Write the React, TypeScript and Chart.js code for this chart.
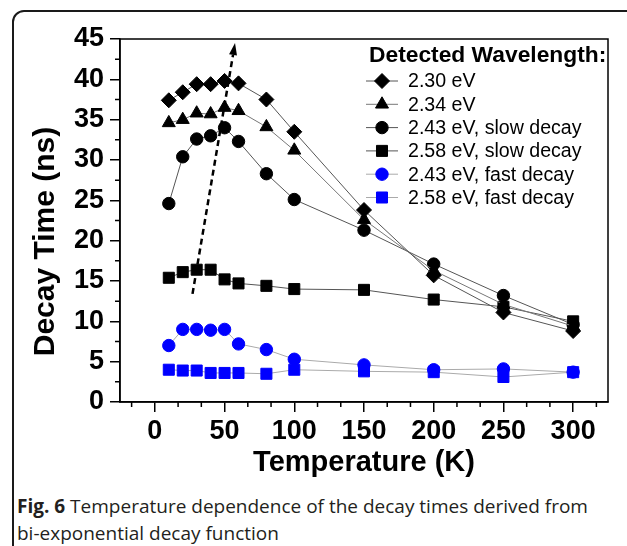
import React, { useEffect, useRef } from 'react';
import { Chart, registerables } from 'chart.js';
import { drawPoint } from 'chart.js/helpers';

Chart.register(...registerables);

// ---- data ----
const temperatures = [10, 20, 30, 40, 50, 60, 80, 100, 150, 200, 250, 300];
const ev230 = [37.4, 38.4, 39.4, 39.4, 39.8, 39.5, 37.5, 33.5, 23.8, 15.7, 11.1, 8.8];
const ev234 = [34.6, 35.0, 35.8, 35.7, 36.5, 36.1, 34.1, 31.2, 22.6, 16.3, 12.1, 9.4];
const ev243slow = [24.6, 30.4, 32.6, 33.0, 34.0, 32.3, 28.3, 25.1, 21.3, 17.1, 13.2, 9.6];
const ev258slow = [15.4, 16.1, 16.4, 16.4, 15.2, 14.7, 14.4, 14.0, 13.9, 12.7, 11.8, 10.0];
const ev243fast = [7.0, 9.0, 9.0, 8.9, 9.0, 7.2, 6.5, 5.3, 4.6, 4.0, 4.1, 3.7];
const ev258fast = [4.0, 3.9, 3.9, 3.6, 3.6, 3.6, 3.5, 4.0, 3.8, 3.7, 3.1, 3.7];
const seriesLabels = [
  '2.30 eV',
  '2.34 eV',
  '2.43 eV, slow decay',
  '2.58 eV, slow decay',
  '2.43 eV, fast decay',
  '2.58 eV, fast decay',
];
const xTickValues = [0, 50, 100, 150, 200, 250, 300];
const yTickValues = [0, 5, 10, 15, 20, 25, 30, 35, 40, 45];
const arrowT = [27, 57.5];
const arrowV = [13.4, 44.5];
const legendTitle = 'Detected Wavelength:';
const xTitle = 'Temperature (K)';
const yTitle = 'Decay Time (ns)';

const FONT = "'Liberation Sans', Arial, Helvetica, sans-serif";

const toPts = (vals: number[]) => temperatures.map((t, i) => ({ x: t, y: vals[i] }));

const styles = [
  { style: 'rectRot', r: 7.5, color: '#000', line: '#555' },
  { style: 'triangle', r: 7.5, color: '#000', line: '#777' },
  { style: 'circle', r: 6.2, color: '#000', line: '#555' },
  { style: 'rect', r: 7.8, color: '#000', line: '#555' },
  { style: 'circle', r: 6.2, color: '#0000ff', line: '#aaa' },
  { style: 'rect', r: 7.8, color: '#0000ff', line: '#aaa' },
];
const seriesData = [ev230, ev234, ev243slow, ev258slow, ev243fast, ev258fast];

const extrasPlugin = {
  id: 'extras',
  afterDatasetsDraw(chart: any) {
    const { ctx, scales } = chart;
    const x = scales.x, y = scales.y;
    const x0 = x.getPixelForValue(arrowT[0]);
    const y0 = y.getPixelForValue(arrowV[0]);
    const x1 = x.getPixelForValue(arrowT[1]);
    const y1 = y.getPixelForValue(arrowV[1]);
    const ang = Math.atan2(y1 - y0, x1 - x0);
    const headLen = 12;
    const hx = x1 - headLen * Math.cos(ang);
    const hy = y1 - headLen * Math.sin(ang);
    ctx.save();
    ctx.strokeStyle = '#000';
    ctx.lineWidth = 2.5;
    ctx.setLineDash([6, 4]);
    ctx.beginPath();
    ctx.moveTo(x0, y0);
    ctx.lineTo(hx, hy);
    ctx.stroke();
    ctx.setLineDash([]);
    ctx.fillStyle = '#000';
    ctx.beginPath();
    ctx.moveTo(x1, y1);
    ctx.lineTo(hx + 4 * Math.sin(ang), hy - 4 * Math.cos(ang));
    ctx.lineTo(hx - 4 * Math.sin(ang), hy + 4 * Math.cos(ang));
    ctx.closePath();
    ctx.fill();
    ctx.restore();
  },
  afterDraw(chart: any) {
    const { ctx, chartArea: a, scales } = chart;
    const x = scales.x, y = scales.y;
    ctx.save();
    ctx.strokeStyle = '#000';
    ctx.lineWidth = 1.5;
    ctx.strokeRect(a.left, a.top, a.right - a.left, a.bottom - a.top);
    // minor ticks
    ctx.beginPath();
    for (let i = -1; i <= 19; i++) {
      if (i % 3 === 0) continue;
      const v = (i * 50) / 3;
      if (v < x.min || v > x.max) continue;
      const px = x.getPixelForValue(v);
      ctx.moveTo(px, a.bottom);
      ctx.lineTo(px, a.bottom + 5);
    }
    for (let i = 0; i < 9; i++) {
      const v = 2.5 + i * 5;
      const py = y.getPixelForValue(v);
      ctx.moveTo(a.left, py);
      ctx.lineTo(a.left - 5, py);
    }
    ctx.stroke();

    // y axis title
    ctx.save();
    ctx.fillStyle = '#000';
    ctx.font = `bold 30px ${FONT}`;
    ctx.textAlign = 'center';
    ctx.textBaseline = 'middle';
    ctx.translate(46, (a.top + a.bottom) / 2 + 21);
    ctx.rotate(-Math.PI / 2);
    ctx.fillText(yTitle, 0, 0);
    ctx.restore();

    // legend
    ctx.fillStyle = '#000';
    ctx.textBaseline = 'middle';
    ctx.textAlign = 'left';
    ctx.font = `bold 22.8px ${FONT}`;
    ctx.fillText(legendTitle, a.right - 239, a.top + 17);
    ctx.font = `19.6px ${FONT}`;
    chart.data.datasets.forEach((ds: any, i: number) => {
      const yy = a.top + 42 + i * 23.3;
      ctx.strokeStyle = ds.borderColor;
      ctx.lineWidth = 1;
      ctx.beginPath();
      ctx.moveTo(a.right - 242, yy);
      ctx.lineTo(a.right - 210, yy);
      ctx.stroke();
      ctx.fillStyle = ds.pointBackgroundColor;
      ctx.strokeStyle = ds.pointBorderColor;
      drawPoint(ctx, { pointStyle: ds.pointStyle, radius: ds.pointRadius, rotation: 0, borderWidth: 1 }, a.right - 226, yy);
      ctx.fillStyle = '#000';
      ctx.fillText(ds.label, a.right - 200, yy + 1);
    });
    ctx.restore();
  },
};

export default function App() {
  const ref = useRef<HTMLCanvasElement | null>(null);
  useEffect(() => {
    if (!ref.current) return;
    Chart.defaults.font.family = FONT;
    const chart = new Chart(ref.current, {
      type: 'line',
      data: {
        datasets: seriesData.map((vals, i) => ({
          label: seriesLabels[i],
          data: toPts(vals),
          borderColor: styles[i].line,
          borderWidth: 1,
          pointStyle: styles[i].style as any,
          pointRadius: styles[i].r,
          pointBackgroundColor: styles[i].color,
          pointBorderColor: styles[i].color,
          pointBorderWidth: 1,
          fill: false,
          tension: 0,
        })),
      },
      options: {
        animation: false,
        responsive: false,
        maintainAspectRatio: false,
        layout: { padding: { left: 0, right: 19, top: 39, bottom: 0 } },
        plugins: { legend: { display: false }, tooltip: { enabled: false } },
        scales: {
          x: {
            type: 'linear',
            min: -25,
            max: 325,
            afterBuildTicks: (s: any) => {
              s.ticks = xTickValues.map((v) => ({ value: v }));
            },
            afterFit: (s: any) => {
              s.height = 78;
            },
            grid: { drawOnChartArea: false, drawTicks: true, tickLength: 10, color: '#000', lineWidth: 1.5 },
            border: { display: true, color: '#000', width: 1.5 },
            ticks: { font: { size: 27, weight: 'bold' }, color: '#000', padding: 3, maxRotation: 0, autoSkip: false },
            title: { display: true, text: xTitle, font: { size: 29, weight: 'bold' }, color: '#000', padding: 0 },
          },
          y: {
            type: 'linear',
            min: 0,
            max: 45,
            afterBuildTicks: (s: any) => {
              s.ticks = yTickValues.map((v) => ({ value: v }));
            },
            afterFit: (s: any) => {
              s.width = 120;
            },
            grid: { drawOnChartArea: false, drawTicks: true, tickLength: 10, color: '#000', lineWidth: 1.5 },
            border: { display: true, color: '#000', width: 1.5 },
            ticks: { font: { size: 27, weight: 'bold' }, color: '#000', padding: 6, autoSkip: false },
            title: { display: false },
          },
        },
      },
      plugins: [extrasPlugin],
    });
    return () => chart.destroy();
  }, []);

  return (
    <div style={{ position: 'fixed', left: 0, top: 0, width: 627, height: 546, overflow: 'hidden', background: '#fff' }}>
      <div
        style={{
          position: 'absolute',
          left: 12,
          top: 10,
          width: 700,
          height: 700,
          border: '2px solid #1a1a1a',
          borderRadius: 12,
          boxSizing: 'border-box',
        }}
      />
      <canvas ref={ref} width={627} height={480} style={{ position: 'absolute', left: 0, top: 0, width: 627, height: 480 }} />
      <div
        style={{
          position: 'absolute',
          left: 17,
          top: 493,
          fontFamily: "'Open Sans', 'Noto Sans', sans-serif",
          fontSize: 19,
          lineHeight: '27px',
          color: '#231f20',
          whiteSpace: 'nowrap',
        }}
      >
        <b>Fig. 6</b> Temperature dependence of the decay times derived from
        <br />
        bi-exponential decay function
      </div>
    </div>
  );
}
